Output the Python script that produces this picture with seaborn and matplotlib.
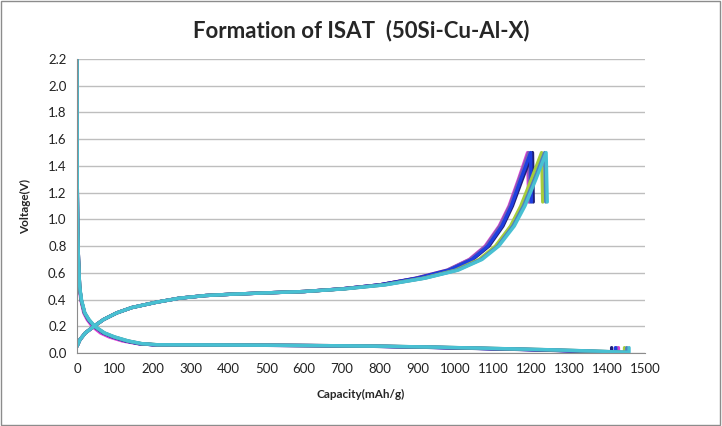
import matplotlib
matplotlib.use('Agg')
import matplotlib.pyplot as plt
import seaborn as sns
import pandas as pd

# ============================================
# DATA
# ============================================
CYCLES = ['C1', 'C2', 'C3', 'C4', 'C5', 'C6', 'C7']
COLORS = ['#E040D8', '#7F60B0', '#1F1F7A', '#1F3FE0', '#A6CC3C', '#4F81BD', '#48C0D2']

# discharge: common voltage points, capacity per cycle
DIS_V = [2.20, 1.20, 0.90, 0.70, 0.50, 0.40, 0.30, 0.25, 0.20, 0.15, 0.12, 0.09,
         0.07, 0.062, 0.060, 0.058, 0.055, 0.050, 0.045, 0.035, 0.025, 0.015,
         0.008, 0.005, 0.040]
DIS_CAP_C1 = [0, 1, 2, 4, 6, 10, 18, 27, 40, 62, 85, 120, 160, 205, 380, 520, 660, 810, 905,
              1060, 1210, 1330, 1400, 1430, 1430]
DIS_CAP_C2 = [0, 1, 2, 4, 7, 11, 20, 30, 44, 68, 93, 128, 163, 200, 360, 480, 640, 800, 900,
              1055, 1205, 1325, 1395, 1425, 1425]
DIS_CAP_C3 = [0, 1, 2, 4, 7, 11, 20, 30, 45, 70, 95, 130, 165, 200, 350, 460, 620, 780, 880,
              1040, 1190, 1310, 1380, 1412, 1412]
DIS_CAP_C4 = [0, 1, 2, 4, 7, 11, 20, 30, 45, 70, 95, 130, 165, 200, 350, 470, 630, 790, 890,
              1050, 1200, 1320, 1390, 1422, 1422]
DIS_CAP_C5 = [0, 1, 2, 4, 7, 11, 20, 31, 46, 72, 98, 134, 170, 210, 370, 500, 660, 820, 920,
              1080, 1230, 1350, 1420, 1446, 1446]
DIS_CAP_C6 = [0, 1, 2, 4, 7, 11, 20, 31, 46, 72, 98, 134, 170, 210, 370, 500, 660, 820, 925,
              1085, 1235, 1355, 1425, 1452, 1452]
DIS_CAP_C7 = [0, 1, 2, 4, 7, 12, 21, 32, 47, 73, 100, 136, 172, 212, 375, 505, 665, 825, 930,
              1090, 1240, 1360, 1430, 1458, 1458]

# charge: common voltage points, capacity per cycle
CHG_V = [0.05, 0.10, 0.15, 0.20, 0.25, 0.30, 0.34, 0.38, 0.41, 0.43, 0.44, 0.45,
         0.46, 0.48, 0.51, 0.56, 0.62, 0.70, 0.80, 0.95, 1.10, 1.30, 1.50, 1.13]
CHG_CAP_C1 = [0, 8, 22, 45, 70, 105, 145, 210, 270, 340, 410, 500, 600, 700, 800, 895,
              978, 1036, 1078, 1115, 1141, 1166, 1190, 1193]
CHG_CAP_C2 = [0, 8, 22, 45, 70, 105, 145, 210, 270, 340, 410, 500, 600, 700, 800, 895,
              978, 1038, 1080, 1117, 1143, 1168, 1193, 1196]
CHG_CAP_C3 = [0, 8, 22, 45, 70, 105, 145, 210, 270, 340, 410, 500, 600, 700, 800, 900,
              985, 1045, 1088, 1125, 1150, 1176, 1203, 1205]
CHG_CAP_C4 = [0, 8, 22, 45, 70, 105, 145, 210, 270, 340, 410, 500, 600, 700, 800, 900,
              983, 1043, 1085, 1122, 1147, 1172, 1198, 1200]
CHG_CAP_C5 = [0, 8, 22, 45, 70, 105, 145, 210, 270, 340, 410, 500, 600, 705, 810, 915,
              1000, 1062, 1105, 1145, 1172, 1200, 1227, 1230]
CHG_CAP_C6 = [0, 8, 22, 45, 70, 105, 145, 210, 270, 340, 410, 500, 600, 705, 812, 918,
              1004, 1067, 1111, 1151, 1179, 1208, 1235, 1238]
CHG_CAP_C7 = [0, 8, 22, 45, 70, 105, 145, 210, 270, 340, 410, 500, 600, 708, 815, 920,
              1007, 1070, 1114, 1155, 1183, 1212, 1239, 1242]

Y_TICKS = [0.0, 0.2, 0.4, 0.6, 0.8, 1.0, 1.2, 1.4, 1.6, 1.8, 2.0, 2.2]
X_TICKS = list(range(0, 1501, 100))

dis_caps = [DIS_CAP_C1, DIS_CAP_C2, DIS_CAP_C3, DIS_CAP_C4, DIS_CAP_C5, DIS_CAP_C6, DIS_CAP_C7]
chg_caps = [CHG_CAP_C1, CHG_CAP_C2, CHG_CAP_C3, CHG_CAP_C4, CHG_CAP_C5, CHG_CAP_C6, CHG_CAP_C7]

rows = []
for cyc, dcap, ccap in zip(CYCLES, dis_caps, chg_caps):
    for c, v in zip(dcap, DIS_V):
        rows.append({'cycle': cyc, 'seg': cyc + '_d', 'cap': c, 'volt': v})
    for c, v in zip(ccap, CHG_V):
        rows.append({'cycle': cyc, 'seg': cyc + '_c', 'cap': c, 'volt': v})
df = pd.DataFrame(rows)

# ============================================
# PLOT
# ============================================
sns.set_style('white')
plt.rcParams['font.family'] = ['Lato', 'DejaVu Sans']

fig = plt.figure(figsize=(7.22, 4.26), dpi=100)
ax = fig.add_axes([0.1066, 0.1714, 0.7867, 0.690])

sns.lineplot(data=df, x='cap', y='volt', hue='cycle', units='seg', estimator=None,
             sort=False, palette=dict(zip(CYCLES, COLORS)), linewidth=2.4,
             legend=False, ax=ax)

ax.set_xlim(0, 1500)
ax.set_ylim(0, 2.2)
ax.set_xticks(X_TICKS)
ax.set_yticks(Y_TICKS)
ax.set_yticklabels([f'{t:.1f}' for t in Y_TICKS])
ax.yaxis.grid(True, color='#BEBEBE', linewidth=1)
ax.set_axisbelow(True)
for s in ['top', 'right']:
    ax.spines[s].set_visible(False)
for s in ['left', 'bottom']:
    ax.spines[s].set_color('#8C8C8C')
ax.tick_params(axis='both', labelsize=9.5, colors='#8C8C8C', labelcolor='#222222',
               direction='out', length=4, width=1)

ax.set_xlabel('Capacity(mAh/g)', fontsize=8.5, fontweight='bold', labelpad=10)
ax.set_ylabel('Voltage(V)', fontsize=8.5, fontweight='bold', labelpad=12)
fig.suptitle('Formation of ISAT  (50Si-Cu-Al-X)', fontsize=16, fontweight='bold',
             x=0.5, y=0.955)

# chart border
fig.patches.append(plt.Rectangle((0.002, 0.003), 0.995, 0.994, transform=fig.transFigure,
                                 fill=False, edgecolor='#8C8C8C', linewidth=1))

plt.savefig('out.png', dpi=100)
plt.close()
